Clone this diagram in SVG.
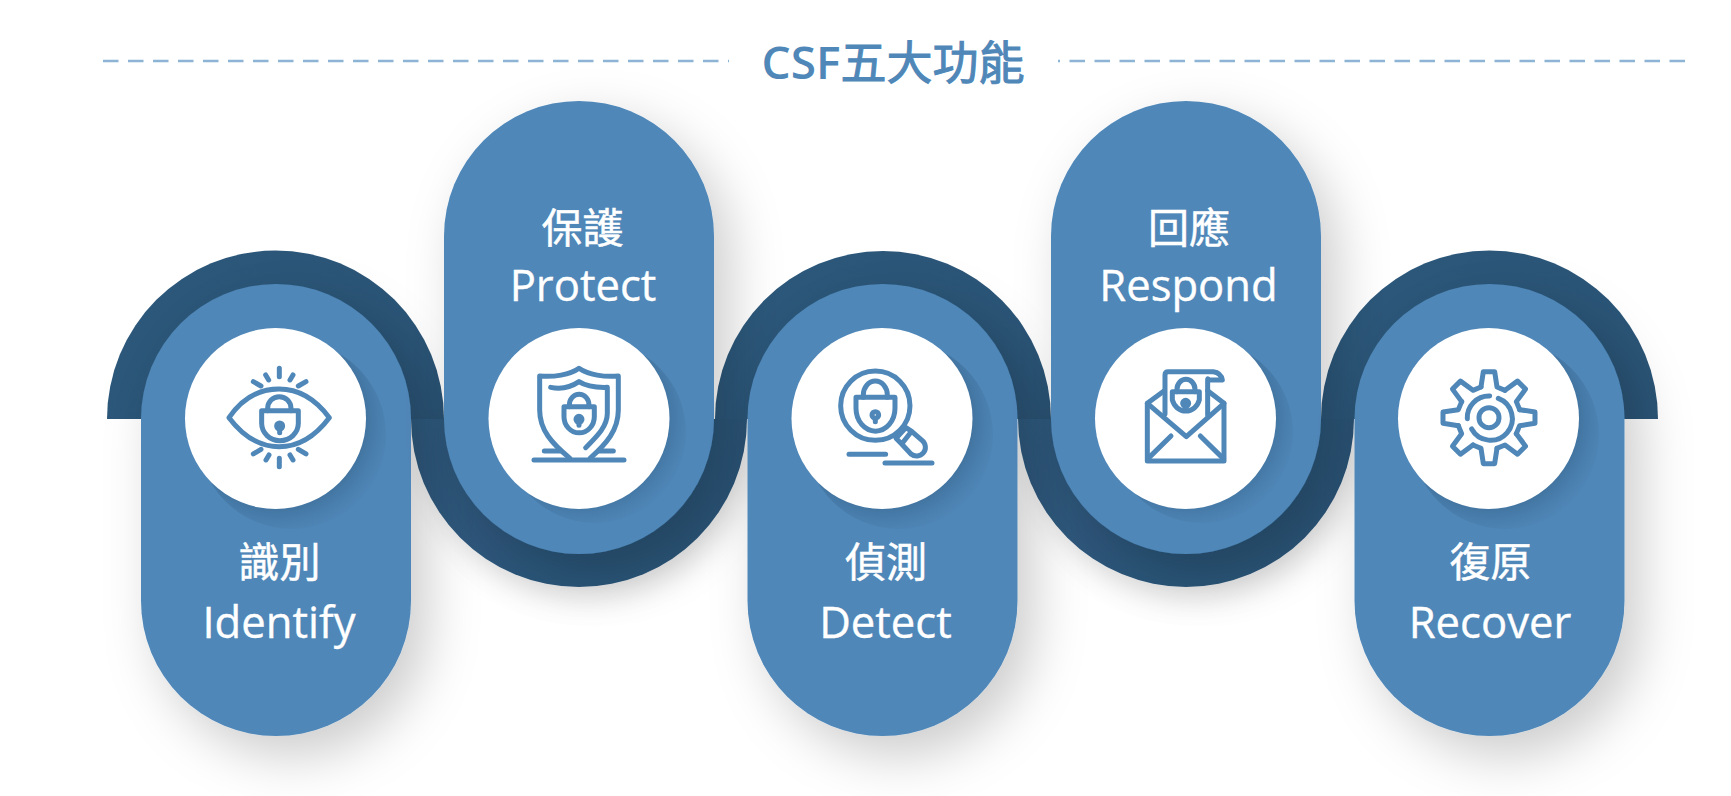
<svg xmlns="http://www.w3.org/2000/svg" xmlns:xlink="http://www.w3.org/1999/xlink" width="1731" height="796" viewBox="0 0 1731 796">
<style>
.pill{fill:#4f87b8;filter:url(#soft)}
.disc{fill:#fff}
.halo{fill:url(#halo)}
.dark-a{fill:url(#archFill)}
.dark-u{fill:url(#cupFill);filter:url(#softU)}
.ic{fill:none;stroke:#4f87b8;stroke-width:15;stroke-linecap:round;stroke-linejoin:round}
.kh{fill:#4f87b8}
.zh{font-family:"Noto Sans CJK TC","Noto Sans CJK SC",sans-serif;font-size:41px;font-weight:400;fill:#fff;stroke:#fff;stroke-width:.5;text-anchor:middle}
.en{font-family:"Open Sans","Noto Sans",sans-serif;font-size:43.6px;fill:#fff;stroke:#fff;stroke-width:.35;text-anchor:middle}
.title{font-family:"Open Sans","Noto Sans CJK TC","Noto Sans CJK SC",sans-serif;font-size:46px;font-weight:600;fill:#4f87b8;text-anchor:middle}
.title .cjk{font-family:"Noto Sans CJK TC","Noto Sans CJK SC",sans-serif;font-weight:400;stroke:#4f87b8;stroke-width:1}
.rule{fill:none;stroke:#8db4d4;stroke-width:2.4;stroke-dasharray:15.5 9.5}
</style>
<defs>
<filter id="soft" x="-35%" y="-20%" width="190%" height="150%"><feDropShadow dx="16" dy="20" stdDeviation="26" flood-color="#000" flood-opacity="0.2"/></filter>
<filter id="softU" x="-20%" y="-20%" width="150%" height="170%"><feDropShadow dx="6" dy="12" stdDeviation="14" flood-color="#000" flood-opacity="0.12"/></filter>
<linearGradient id="archFill" x1="0" y1="0" x2="1" y2="0.4"><stop offset="0" stop-color="#2c587b"/><stop offset="1" stop-color="#2a5476"/></linearGradient>
<linearGradient id="cupFill" x1="0" y1="0" x2="1" y2="0.3"><stop offset="0" stop-color="#2f5a7e"/><stop offset="1" stop-color="#2a5376"/></linearGradient>
<radialGradient id="halo" cx="0.42" cy="0.415" r="0.62"><stop offset="0.72" stop-color="#1c3a55" stop-opacity="0.3"/><stop offset="1" stop-color="#2a5a85" stop-opacity="0.02"/></radialGradient>
<path id="lower" d="M-135 0A135 135 0 0 1 135 0V182A135 135 0 0 1 -135 182Z"/>
<path id="upper" d="M-135 -183A135 135 0 0 1 135 -183V0A135 135 0 0 1 -135 0Z"/>
<path id="tooth" d="M-24 -92L-17 -138H17L24 -92L48 -82"/>
</defs>

<g id="title">
<path class="rule" d="M103 61H729"/>
<path class="rule" d="M1685 61H1058"/>
<text class="title" x="893" y="79">CSF<tspan class="cjk">五大功能</tspan></text>
</g>

<g id="connectors">
<path class="dark-a" d="M107 419A168 168 0 0 1 444 419Z"/>
<path class="dark-u" d="M411 419A168 168 0 0 0 747 419Z"/>
<path class="dark-a" d="M715 419A168 168 0 0 1 1051 419Z"/>
<path class="dark-u" d="M1018 419A168 168 0 0 0 1354 419Z"/>
<path class="dark-a" d="M1321 419A168 168 0 0 1 1658 419Z"/>
</g>

<g id="node-identify">
<use href="#lower" class="pill" x="276" y="419"/>
<circle class="halo" cx="292" cy="435" r="94"/>
<circle class="disc" cx="275.5" cy="418.5" r="90.5"/>
<g class="ic" transform="translate(180 320) scale(.3333)">
<path d="M147 293C190 230 240 207 297 207C355 207 405 235 448 293C405 350 355 380 297 380C240 380 190 350 147 293Z"/>
<path d="M245 272H355V310A55 52 0 0 1 245 310Z"/>
<path d="M263 272V265A35 35 0 0 1 333 265V272"/>
<path d="M298 145V170M257 165L266 180M339 165L330 180M220 185L243 198M378 185L355 198M298 415V440M258 420L267 405M339 420L330 405M220 402L243 388M378 402L355 388"/>
<circle class="kh" cx="299" cy="318" r="9"/>
<path d="M299 322V338"/>
</g>
<text class="zh" x="279.5" y="577">識別</text>
<text class="en" x="279" y="638">Identify</text>
</g>

<g id="node-protect">
<use href="#upper" class="pill" x="579" y="419"/>
<circle class="halo" cx="595" cy="432" r="91"/>
<circle class="disc" cx="579" cy="418.5" r="90.5"/>
<g class="ic" transform="translate(480 320) scale(.3333)">
<path d="M270 415C215 370 179 330 179 270V168C220 172 270 165 297 145C325 165 375 172 415 168V270C415 330 380 370 330 415"/>
<path d="M212 202C250 210 275 200 297 185C320 200 350 203 382 202V280C382 320 350 350 317 383"/>
<path d="M252 260H343V290A45 48 0 0 1 252 290Z"/>
<path d="M268 260V255A29 32 0 0 1 327 255V260"/>
<circle class="kh" cx="297" cy="298" r="9"/>
<path d="M297 302V316"/>
<path d="M162 420H432M193 393H240M355 393H400"/>
</g>
<text class="zh" x="582.5" y="243">保護</text>
<text class="en" x="583" y="301">Protect</text>
</g>

<g id="node-detect">
<use href="#lower" class="pill" x="882.5" y="419"/>
<circle class="halo" cx="899" cy="435" r="94"/>
<circle class="disc" cx="882" cy="418.5" r="90.5"/>
<g class="ic" transform="translate(780 320) scale(.3333)">
<circle cx="286" cy="257" r="104"/>
<path d="M228 232H345V265A58 68 0 0 1 228 265Z"/>
<path d="M250 232V225A36 42 0 0 1 322 225V232"/>
<circle cx="286" cy="285" r="10"/>
<path d="M286 295V305"/>
<path d="M378 323L348 355L365 372L395 334L427 362A26 26 0 0 1 393 402L365 372M378 323L395 334"/>
<path d="M207 403H317M315 429H456"/>
</g>
<text class="zh" x="886" y="577">偵測</text>
<text class="en" x="885.5" y="638">Detect</text>
</g>

<g id="node-respond">
<use href="#upper" class="pill" x="1186" y="419"/>
<circle class="halo" cx="1202" cy="432" r="91"/>
<circle class="disc" cx="1185.5" cy="418.5" r="90.5"/>
<g class="ic" transform="translate(1085 320) scale(.3333)">
<path d="M238 212L187 250V423H417V250L368 212"/>
<path d="M187 250L304 350L417 250"/>
<path d="M192 413L258 348M412 413L346 348"/>
<path d="M240 282V165Q240 155 250 155H385Q408 158 412 180H372Q368 172 368 180V285"/>
<path d="M262 215H343V240A42 45 0 0 1 262 240Z"/>
<path d="M276 215V208A27 30 0 0 1 330 208V215"/>
<circle class="kh" cx="302" cy="250" r="9"/>
<path d="M302 254V268"/>
</g>
<text class="zh" x="1189" y="243">回應</text>
<text class="en" x="1188.5" y="301">Respond</text>
</g>

<g id="node-recover">
<use href="#lower" class="pill" x="1489.5" y="419"/>
<circle class="halo" cx="1505" cy="435" r="94"/>
<circle class="disc" cx="1488.5" cy="418.5" r="90.5"/>
<g class="ic" transform="translate(1390 320) scale(.3333)">
<g transform="translate(297 293)">
<use href="#tooth"/>
<use href="#tooth" transform="rotate(45)"/>
<use href="#tooth" transform="rotate(90)"/>
<use href="#tooth" transform="rotate(135)"/>
<use href="#tooth" transform="rotate(180)"/>
<use href="#tooth" transform="rotate(225)"/>
<use href="#tooth" transform="rotate(270)"/>
<use href="#tooth" transform="rotate(315)"/>
</g>
<circle cx="297" cy="293" r="30"/>
<path d="M232 296A65 65 0 0 1 299 228M325 235A65 65 0 1 1 245 327"/>
</g>
<text class="zh" x="1490.5" y="577">復原</text>
<text class="en" x="1490" y="638">Recover</text>
</g>
</svg>
